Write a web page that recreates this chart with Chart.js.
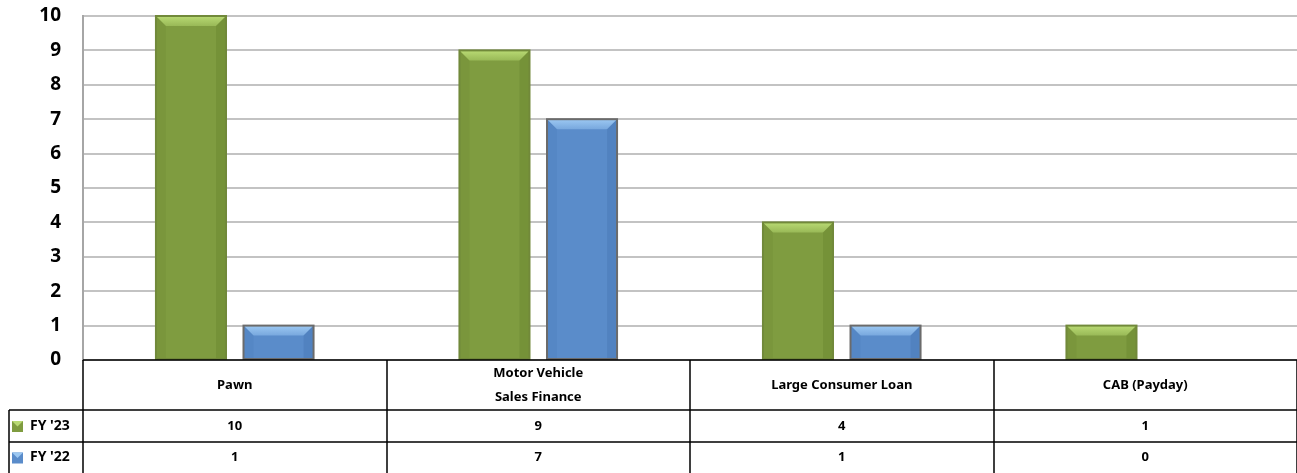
<!DOCTYPE html>
<html>
    <head>
        <meta charset="utf-8">
        <title>Licenses by type</title>
        <script src="https://cdn.jsdelivr.net/npm/chart.js@4.4.0/dist/chart.umd.min.js"></script>
        <style>
            body { margin: 0; background: #fff; }
        </style>
    </head>
    <body>
        <canvas id="chart" width="1297" height="473"></canvas>

        <script>
            const categories = [['Pawn'], ['Motor Vehicle', 'Sales Finance'], ['Large Consumer Loan'], ['CAB (Payday)']]
            const seriesNames = ["FY '23", "FY '22"]
            const fy23 = [10, 9, 4, 1]
            const fy22 = [1, 7, 1, 0]
            const yMax = 10

            const FONT = "'Noto Sans', 'Liberation Sans', sans-serif"
            const colors = [
                { fill: '#7f9c40', light: '#b9da74', mid: '#99b957', dark: '#5f7a28', border: '#71893a' },
                { fill: '#5a8cca', light: '#9cc8f2', mid: '#78a8de', dark: '#3f6ea8', border: '#6b6b6b' }
            ]

            // bevelled look on each bar
            const bevel = {
                id: 'bevel',
                afterDatasetsDraw(chart) {
                    const ctx = chart.ctx
                    chart.data.datasets.forEach((ds, i) => {
                        const c = colors[i]
                        chart.getDatasetMeta(i).data.forEach(bar => {
                            const h = bar.base - bar.y
                            if (h <= 0) return
                            const l = bar.x - bar.width / 2, r = bar.x + bar.width / 2
                            const t = bar.y, b = bar.base
                            const s = Math.min(10, h / 2)
                            ctx.save()
                            // top facet
                            const g = ctx.createLinearGradient(0, t, 0, t + s)
                            g.addColorStop(0, c.light)
                            g.addColorStop(1, c.mid)
                            ctx.fillStyle = g
                            ctx.beginPath()
                            ctx.moveTo(l, t); ctx.lineTo(r, t); ctx.lineTo(r - s, t + s); ctx.lineTo(l + s, t + s)
                            ctx.closePath(); ctx.fill()
                            // side facets
                            ctx.fillStyle = c.dark
                            ctx.globalAlpha = 0.3
                            ctx.beginPath()
                            ctx.moveTo(r, t); ctx.lineTo(r, b); ctx.lineTo(r - s, b); ctx.lineTo(r - s, t + s)
                            ctx.closePath(); ctx.fill()
                            ctx.globalAlpha = 0.15
                            ctx.beginPath()
                            ctx.moveTo(l, t); ctx.lineTo(l, b); ctx.lineTo(l + s, b); ctx.lineTo(l + s, t + s)
                            ctx.closePath(); ctx.fill()
                            ctx.globalAlpha = 1
                            ctx.strokeStyle = c.border
                            ctx.lineWidth = 2
                            ctx.strokeRect(l, t, r - l, h)
                            ctx.restore()
                        })
                    })
                }
            }

            // data table under the plot
            const dataTable = {
                id: 'dataTable',
                afterDraw(chart) {
                    const ctx = chart.ctx
                    const area = chart.chartArea
                    const x = chart.scales.x
                    const n = categories.length
                    const cw = (area.right - area.left) / n
                    const top = area.bottom
                    const row1 = top + 50, row2 = row1 + 32, bottom = chart.height
                    const legendLeft = 9

                    ctx.save()
                    ctx.strokeStyle = '#000'
                    ctx.lineWidth = 1.5
                    ctx.beginPath()
                    ctx.moveTo(area.left, top); ctx.lineTo(area.right, top)
                    ctx.moveTo(legendLeft, row1); ctx.lineTo(area.right, row1)
                    ctx.moveTo(legendLeft, row2); ctx.lineTo(area.right, row2)
                    ctx.moveTo(legendLeft, row1); ctx.lineTo(legendLeft, bottom)
                    for (let i = 0; i <= n; i++) {
                        const xx = Math.round(area.left + i * cw)
                        ctx.moveTo(xx, top); ctx.lineTo(xx, bottom)
                    }
                    ctx.stroke()

                    ctx.fillStyle = '#000'
                    ctx.font = 'bold 13px ' + FONT
                    ctx.textAlign = 'center'
                    ctx.textBaseline = 'middle'
                    categories.forEach((lines, i) => {
                        const cx = x.getPixelForValue(i)
                        const mid = (top + row1) / 2
                        lines.forEach((txt, k) => {
                            ctx.fillText(txt, cx, mid + (k - (lines.length - 1) / 2) * 24)
                        })
                        ctx.fillText(String(fy23[i]), cx, (row1 + row2) / 2)
                        ctx.fillText(String(fy22[i]), cx, (row2 + bottom) / 2)
                    })

                    // legend keys
                    ctx.font = 'bold 14px ' + FONT
                    ;[row1, row2].forEach((ry, k) => {
                        const cy = ry + (k === 0 ? (row2 - row1) : (bottom - row2)) / 2
                        const c = colors[k]
                        const sx = 12, sy = cy - 5, sz = 11
                        ctx.fillStyle = c.fill
                        ctx.fillRect(sx, sy, sz, sz)
                        ctx.fillStyle = c.light
                        ctx.beginPath()
                        ctx.moveTo(sx, sy); ctx.lineTo(sx + sz, sy); ctx.lineTo(sx + sz / 2, sy + sz / 2)
                        ctx.closePath(); ctx.fill()
                        ctx.fillStyle = '#000'
                        ctx.textAlign = 'left'
                        ctx.fillText(seriesNames[k], 30, cy)
                    })
                    ctx.restore()
                }
            }

            new Chart(document.getElementById('chart').getContext('2d'), {
                type: 'bar',
                data: {
                    labels: categories,
                    datasets: [
                        { label: seriesNames[0], data: fy23, backgroundColor: colors[0].fill, borderWidth: 0 },
                        { label: seriesNames[1], data: fy22, backgroundColor: colors[1].fill, borderWidth: 0 }
                    ]
                },
                options: {
                    responsive: false,
                    animation: false,
                    categoryPercentage: 0.577,
                    barPercentage: 0.8,
                    layout: { padding: { top: 16, bottom: 113, left: 0, right: 0 } },
                    plugins: { legend: { display: false }, tooltip: { enabled: false } },
                    scales: {
                        x: { display: false },
                        y: {
                            min: 0,
                            max: yMax,
                            ticks: {
                                stepSize: 1,
                                color: '#000',
                                padding: 2,
                                font: { family: FONT, size: 19, weight: 'bold' }
                            },
                            grid: { color: '#c3c3c3', lineWidth: 2, drawTicks: true, tickLength: 20, tickColor: 'rgba(0,0,0,0)' },
                            border: { display: true, color: '#a6a6a6', width: 2 },
                            afterFit(scale) { scale.width = 83 }
                        }
                    }
                },
                plugins: [bevel, dataTable]
            })
        </script>
    </body>
</html>
